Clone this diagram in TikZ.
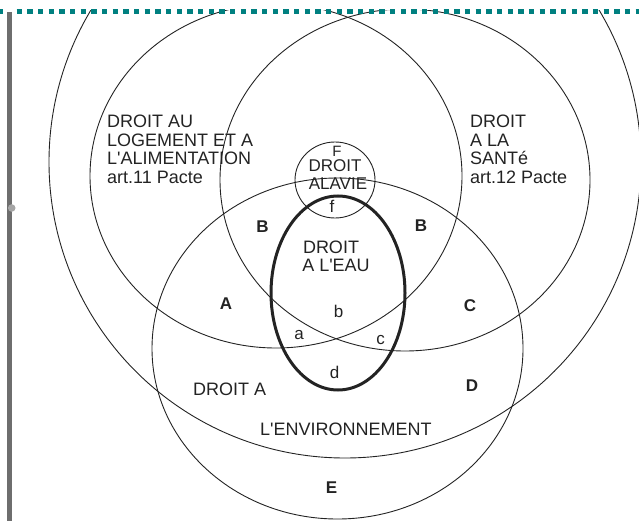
\documentclass[tikz,border=0pt]{standalone}
\usepackage{fontspec}
\setmainfont{Liberation Sans}[Ligatures=TeXOff]
\definecolor{tealdot}{RGB}{0,128,128}
\definecolor{barc}{RGB}{110,110,110}
\definecolor{dotc}{RGB}{165,165,165}
\definecolor{ink}{RGB}{35,35,35}
\tikzset{
  venn/.style={draw=ink, line width=0.9pt},
  water/.style={draw=ink, line width=3pt},
  lab/.style={inner sep=0pt, text=ink, font=\fontsize{18pt}{18pt}\selectfont, anchor=base west},
  labc/.style={inner sep=0pt, text=ink, font=\fontsize{18pt}{18pt}\selectfont, anchor=base},
  zone/.style={inner sep=0pt, text=ink, font=\bfseries\fontsize{17pt}{17pt}\selectfont, anchor=base},
  sub/.style={inner sep=0pt, text=ink, font=\fontsize{17pt}{17pt}\selectfont, anchor=base},
}
\begin{document}
\begin{tikzpicture}[x=1pt,y=-1pt]
\useasboundingbox (0,0) rectangle (639,521);
\begin{scope}
  \clip (12,11) rectangle (639,521);
  \draw[venn] (345,162) circle[radius=296pt];
  \draw[venn] (276,176) ellipse[x radius=186pt, y radius=172pt];
  \draw[venn] (405,180) ellipse[x radius=185pt, y radius=171pt];
  \draw[venn] (337.5,348.5) ellipse[x radius=185.5pt, y radius=170.5pt];
  \draw[venn] (335,180) ellipse[x radius=40pt, y radius=38pt];
  \draw[water] (338,293) ellipse[x radius=67pt, y radius=97pt];
\end{scope}
% frame
\draw[barc, line width=4.5pt] (9.7,12) -- (9.7,521);
\fill[dotc] (11.7,208) circle[radius=3.8pt];
\draw[tealdot, line width=5pt, dash pattern=on 5.33pt off 5.34pt] (16.7,11.5) -- (639,11.5);
\fill[tealdot] (0,9) rectangle (3.3,14);
% left text
\node[lab] (l1) at (107,128) {DROIT AU};
\node[lab] (l2) at (107,146.5) {LOGEMENT ET A};
\node[lab] (l3) at (107,165) {L'ALIMENTATION};
\node[lab] (l4) at (107,183.5) {art.11 Pacte};
% right text
\node[lab] (r1) at (470,128) {DROIT};
\node[lab] (r2) at (470,146.5) {A LA};
\node[lab] (r3) at (470,165) {SANTé};
\node[lab] (r4) at (470,183.5) {art.12 Pacte};
% small circle
\node[sub, font=\fontsize{15pt}{15pt}\selectfont] (tF) at (337,157) {F};
\node[labc, font=\fontsize{17pt}{17pt}\selectfont] (v1) at (335,172) {DROIT};
\node[labc, font=\fontsize{17pt}{17pt}\selectfont] (v2) at (338,190) {ALAVIE};
\node[sub] (tf) at (332,213) {f};
% water
\node[labc] (w1) at (331,253) {DROIT};
\node[labc] (w2) at (336,271) {A L'EAU};
% zones
\node[zone] (zB1) at (262.5,233) {B};
\node[zone] (zB2) at (421,232) {B};
\node[zone] (zA) at (226,309) {A};
\node[zone] (zC) at (470,311) {C};
\node[zone] (zD) at (472,391) {D};
\node[zone] (zE) at (331.5,493) {E};
% sub zones
\node[sub] (sa) at (299,339) {a};
\node[sub] (sb) at (338.5,317) {b};
\node[sub] (sc) at (380.5,344) {c};
\node[sub] (sd) at (334.5,378) {d};
% environment
\node[lab] (e1) at (193,395) {DROIT A};
\node[lab] (e2) at (260,435) {L'ENVIRONNEMENT};
\end{tikzpicture}
\end{document}
